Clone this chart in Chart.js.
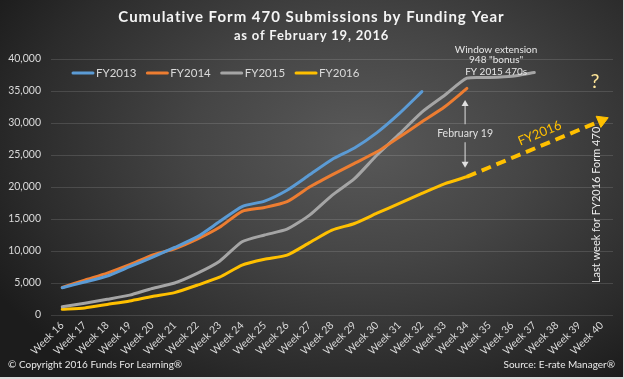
<!DOCTYPE html>
<html><head><meta charset="utf-8">
<script src="https://cdn.jsdelivr.net/npm/chart.js@4"></script>
<style>
html,body{margin:0;padding:0;background:#dadada;overflow:hidden;}
#wrap{position:absolute;left:0;top:0;width:623px;height:377px;
background:radial-gradient(ellipse 68% 78% at 58% 38%, #595959 0%, #454545 40%, #2b2b2b 80%, #1c1c1c 100%);}
canvas{display:block;}
</style></head><body>
<div id="wrap"><canvas id="c" width="623" height="377"></canvas></div>
<script>
const weeks = ['Week 16','Week 17','Week 18','Week 19','Week 20','Week 21','Week 22','Week 23','Week 24','Week 25','Week 26','Week 27','Week 28','Week 29','Week 30','Week 31','Week 32','Week 33','Week 34','Week 35','Week 36','Week 37','Week 38','Week 39','Week 40'];
const fy2013 = [4270, 5150, 6100, 7550, 9000, 10550, 12200, 14600, 16950, 17800, 19500, 21900, 24300, 26100, 28500, 31500, 34900];
const fy2014 = [4300, 5450, 6550, 7850, 9350, 10350, 11850, 13700, 16200, 16800, 17700, 20000, 21900, 23700, 25500, 27800, 30200, 32500, 35400];
const fy2015 = [1300, 1850, 2450, 3100, 4150, 5000, 6500, 8400, 11450, 12500, 13400, 15600, 18700, 21300, 25000, 28300, 31700, 34300, 37000, 37100, 37300, 37900];
const fy2016 = [880, 1100, 1650, 2200, 2900, 3500, 4650, 5900, 7800, 8700, 9350, 11300, 13250, 14300, 15900, 17450, 19000, 20500, 21600];
const fy2016Projection = [null,null,null,null,null,null,null,null,null,null,null,null,null,null,null,null,null,null,21600,null,null,null,null,null,30400];
const seriesNames = ['FY2013','FY2014','FY2015','FY2016'];
const seriesColors = ['#5B9BD5','#ED7D31','#A5A5A5','#FFC000'];
const titleText = 'Cumulative Form 470 Submissions by Funding Year';
const subtitleText = 'as of February 19, 2016';

const F = "Lato, 'Open Sans', sans-serif";
Chart.defaults.font.family = F;

const annot = {
  id: 'annot',
  afterDraw(chart) {
    const {ctx, scales: {x, y}, chartArea} = chart;
    ctx.save();
    // Title and subtitle
    ctx.textAlign = 'center';
    ctx.textBaseline = 'middle';
    ctx.fillStyle = '#f4f4f4';
    ctx.letterSpacing = '1px';
    ctx.font = `bold 15px ${F}`;
    ctx.fillText(titleText, chart.width / 2, 17.5);
    ctx.font = `bold 13px ${F}`;
    ctx.letterSpacing = '0.8px';
    ctx.fillText(subtitleText, chart.width / 2, 36);
    ctx.letterSpacing = '0px';
    // Legend inside plot
    ctx.textAlign = 'left';
    ctx.font = `11.5px ${F}`;
    let lx = chartArea.left + 22;
    const ly = chartArea.top + 14;
    seriesNames.forEach((n, i) => {
      ctx.strokeStyle = seriesColors[i];
      ctx.lineWidth = 3;
      ctx.lineCap = 'round';
      ctx.beginPath(); ctx.moveTo(lx, ly); ctx.lineTo(lx + 20, ly); ctx.stroke();
      ctx.fillStyle = '#d9d9d9';
      ctx.fillText(n, lx + 23, ly);
      lx += 23 + ctx.measureText(n).width + 11;
    });
    ctx.textAlign = 'center';
    // Window extension note
    ctx.fillStyle = '#e6e6e6';
    ctx.font = `10px ${F}`;
    const wx = x.getPixelForValue(19.3);
    ctx.fillText('Window extension', wx, y.getPixelForValue(41400));
    ctx.fillText('948 "bonus"', wx, y.getPixelForValue(39800));
    ctx.fillText('FY 2015 470s', wx, y.getPixelForValue(38000));
    // February 19 arrow
    const ax = x.getPixelForValue(17.92);
    const yTop = y.getPixelForValue(33600), yBot = y.getPixelForValue(23000), yMid = y.getPixelForValue(28400);
    ctx.strokeStyle = '#e0e0e0'; ctx.fillStyle = '#e0e0e0'; ctx.lineWidth = 1; ctx.lineCap = 'butt';
    ctx.beginPath();
    ctx.moveTo(ax, yTop + 5); ctx.lineTo(ax, yMid - 9);
    ctx.moveTo(ax, yMid + 9); ctx.lineTo(ax, yBot - 5);
    ctx.stroke();
    ctx.beginPath(); ctx.moveTo(ax, yTop); ctx.lineTo(ax - 3.5, yTop + 6); ctx.lineTo(ax + 3.5, yTop + 6); ctx.closePath(); ctx.fill();
    ctx.beginPath(); ctx.moveTo(ax, yBot); ctx.lineTo(ax - 3.5, yBot - 6); ctx.lineTo(ax + 3.5, yBot - 6); ctx.closePath(); ctx.fill();
    ctx.font = `10.5px ${F}`;
    ctx.fillText('February 19', ax, yMid);
    // FY2016 rotated label
    ctx.save();
    ctx.translate(x.getPixelForValue(21.24), y.getPixelForValue(28400));
    ctx.rotate(-22.6 * Math.PI / 180);
    ctx.fillStyle = '#FFC000';
    ctx.font = `13px ${F}`;
    ctx.fillText('FY2016', 0, 0);
    ctx.restore();
    // Question mark
    ctx.fillStyle = '#FFE699';
    ctx.font = `20px ${F}`;
    ctx.fillText('?', x.getPixelForValue(23.7), y.getPixelForValue(36400));
    // Vertical note
    ctx.save();
    ctx.translate(x.getPixelForValue(23.78), y.getPixelForValue(17200));
    ctx.rotate(-Math.PI / 2);
    ctx.fillStyle = '#ececec';
    ctx.font = `11px ${F}`;
    ctx.fillText('Last week for FY2016 Form 470', 0, 0);
    ctx.restore();
    // footer
    ctx.fillStyle = '#e8e8e8';
    ctx.font = `10px ${F}`;
    ctx.textAlign = 'left';
    ctx.fillText('\u00A9 Copyright 2016 Funds For Learning\u00AE', 8, 365);
    ctx.textAlign = 'right';
    ctx.fillText('Source: E-rate Manager\u00AE', 615, 365);
    ctx.restore();
  }
};

const base = {borderWidth: 3, pointRadius: 0, pointHoverRadius: 0, tension: 0.2, fill: false, borderCapStyle: 'round', borderJoinStyle: 'round'};
const seriesData = [fy2013, fy2014, fy2015, fy2016];
const datasets = seriesNames.map((n, i) => Object.assign({}, base, {label: n, data: seriesData[i], borderColor: seriesColors[i], backgroundColor: seriesColors[i]}));
datasets.push({
  label: 'FY2016 projection', data: fy2016Projection, spanGaps: true, borderColor: '#FFC000', backgroundColor: '#FFC000',
  borderWidth: 4, borderDash: [10, 6], tension: 0, fill: false,
  pointRadius: fy2016Projection.map((v, i) => i === fy2016Projection.length - 1 ? 7 : 0),
  pointStyle: 'triangle', pointRotation: 67, pointBackgroundColor: '#FFC000', pointBorderColor: '#FFC000', pointBorderWidth: 1
});

new Chart(document.getElementById('c'), {
  type: 'line',
  data: {labels: weeks, datasets},
  options: {
    responsive: false, animation: false, devicePixelRatio: 1,
    layout: {padding: {left: 0, right: 10, top: 59, bottom: 0}},
    plugins: {
      tooltip: {enabled: false},
      title: {display: false},
      legend: {display: false}
    },
    scales: {
      x: {offset: true, grid: {display: false, drawTicks: false}, border: {display: false},
        ticks: {color: '#d9d9d9', font: {size: 10.5}, maxRotation: 45, minRotation: 45, autoSkip: false, padding: 4},
        afterFit(s) { s.height = 62; }},
      y: {min: 0, max: 40000, border: {display: false},
        grid: {color: 'rgba(255,255,255,0.13)', drawTicks: false, lineWidth: 1},
        ticks: {stepSize: 5000, color: '#d9d9d9', font: {size: 10.5}, padding: 10, callback: v => v.toLocaleString('en-US')},
        afterFit(s) { s.width = 51; }}
    }
  },
  plugins: [annot]
});
</script>
</body></html>
